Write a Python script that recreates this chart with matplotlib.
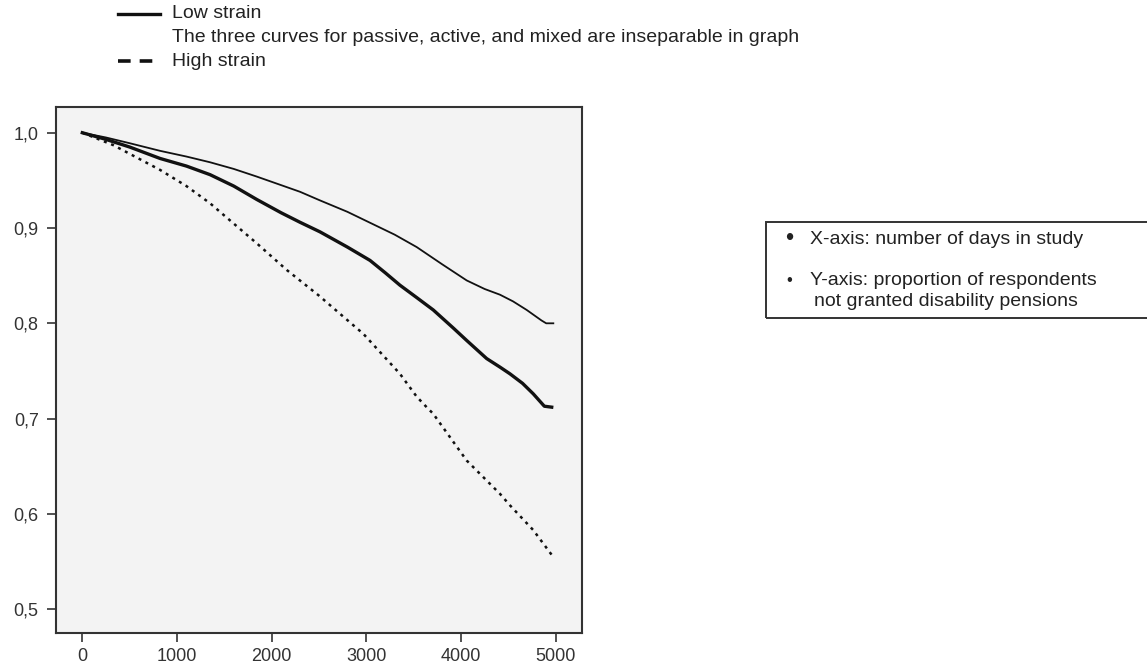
import matplotlib
matplotlib.use("Agg")
import matplotlib.pyplot as plt
from matplotlib.lines import Line2D
from matplotlib.patches import Rectangle

plt.rcParams['font.family'] = ['Liberation Sans', 'DejaVu Sans']

# Low strain (solid)
days_low = [0, 250, 500, 821, 1100, 1349, 1600, 1842, 2100, 2300, 2510, 2800,
            3050, 3300, 3532, 3800, 4060, 4250, 4412, 4550, 4694, 4850, 4900, 4975]
surv_low = [1.0, 0.995, 0.989, 0.981, 0.975, 0.969, 0.962, 0.954, 0.945, 0.938,
            0.929, 0.917, 0.905, 0.893, 0.880, 0.862, 0.845, 0.836, 0.830, 0.823,
            0.814, 0.803, 0.800, 0.800]

# passive / active / mixed (inseparable in graph)
days_mid = [0, 250, 500, 821, 1100, 1349, 1600, 1842, 2100, 2300, 2510, 2800,
            3039, 3200, 3355, 3532, 3707, 3919, 4060, 4271, 4412, 4517, 4650,
            4763, 4880, 4958]
surv_mid = [1.0, 0.993, 0.985, 0.973, 0.965, 0.956, 0.944, 0.930, 0.916, 0.906,
            0.896, 0.880, 0.866, 0.853, 0.840, 0.827, 0.814, 0.795, 0.782, 0.763,
            0.754, 0.747, 0.737, 0.726, 0.713, 0.712]

# High strain (dashed)
days_high = [0, 327, 821, 1100, 1349, 1454, 1842, 2159, 2500, 2862, 2968, 3355,
             3532, 3637, 3707, 4060, 4412, 4517, 4763, 4958]
surv_high = [1.0, 0.987, 0.961, 0.944, 0.926, 0.917, 0.884, 0.856, 0.829, 0.798,
             0.789, 0.747, 0.723, 0.712, 0.705, 0.656, 0.621, 0.609, 0.583, 0.557]

xticks = [0, 1000, 2000, 3000, 4000, 5000]
yticks = [0.5, 0.6, 0.7, 0.8, 0.9, 1.0]
ylabels = ['0,5', '0,6', '0,7', '0,8', '0,9', '1,0']

W, H = 1147, 666
fig = plt.figure(figsize=(W / 100, H / 100), dpi=100)
ax = fig.add_axes([56 / W, 1 - 633 / H, 526 / W, 526 / H])

ax.plot(days_low, surv_low, color='#111111', lw=1.3)
ax.plot(days_mid, surv_mid, color='#111111', lw=2.4)
ax.plot(days_high, surv_high, color='#111111', lw=1.8, ls=(0, (1.2, 1.9)))

ax.set_facecolor('#f3f3f3')
ax.set_xlim(-278, 5278)
ax.set_ylim(0.475, 1.027)
ax.set_xticks(xticks)
ax.set_yticks(yticks)
ax.set_yticklabels(ylabels)
ax.tick_params(colors='#333333', labelsize=13, length=6.5, width=1.2)
ax.tick_params(axis='x', pad=4)
ax.tick_params(axis='y', pad=6)
for s in ax.spines.values():
    s.set_color('#333333')
    s.set_linewidth(1.5)

# legend at the top
fig.add_artist(Line2D([118 / W, 160 / W], [1 - 14 / H, 1 - 14 / H],
                      color='#111111', lw=2.4))
fig.add_artist(Line2D([118 / W, 160 / W], [1 - 61 / H, 1 - 61 / H],
                      color='#111111', lw=2.6, ls=(0, (3.5, 2.5))))
fig.text(172 / W, 1 - 14 / H, 'Low strain', fontsize=14, va='center', color='#222222')
fig.text(172 / W, 1 - 38 / H,
         'The three curves for passive, active, and mixed are inseparable in graph',
         fontsize=14, va='center', color='#222222')
fig.text(172 / W, 1 - 61 / H, 'High strain', fontsize=14, va='center', color='#222222')

# note box at the right
fig.add_artist(Rectangle((766 / W, 1 - 318 / H), 420 / W, 96 / H,
                         transform=fig.transFigure, fill=False,
                         edgecolor='#333333', lw=1.4))
fig.text(785 / W, 1 - 239 / H, '\u2022', fontsize=17, va='center', color='#222222')
fig.text(810 / W, 1 - 239 / H, 'X-axis: number of days in study',
         fontsize=14, va='center', color='#222222')
fig.text(786 / W, 1 - 280 / H, '\u2022', fontsize=12, va='center', color='#222222')
fig.text(810 / W, 1 - 280 / H, 'Y-axis: proportion of respondents',
         fontsize=14, va='center', color='#222222')
fig.text(814 / W, 1 - 301 / H, 'not granted disability pensions',
         fontsize=14, va='center', color='#222222')

fig.savefig('out.png', dpi=100)
